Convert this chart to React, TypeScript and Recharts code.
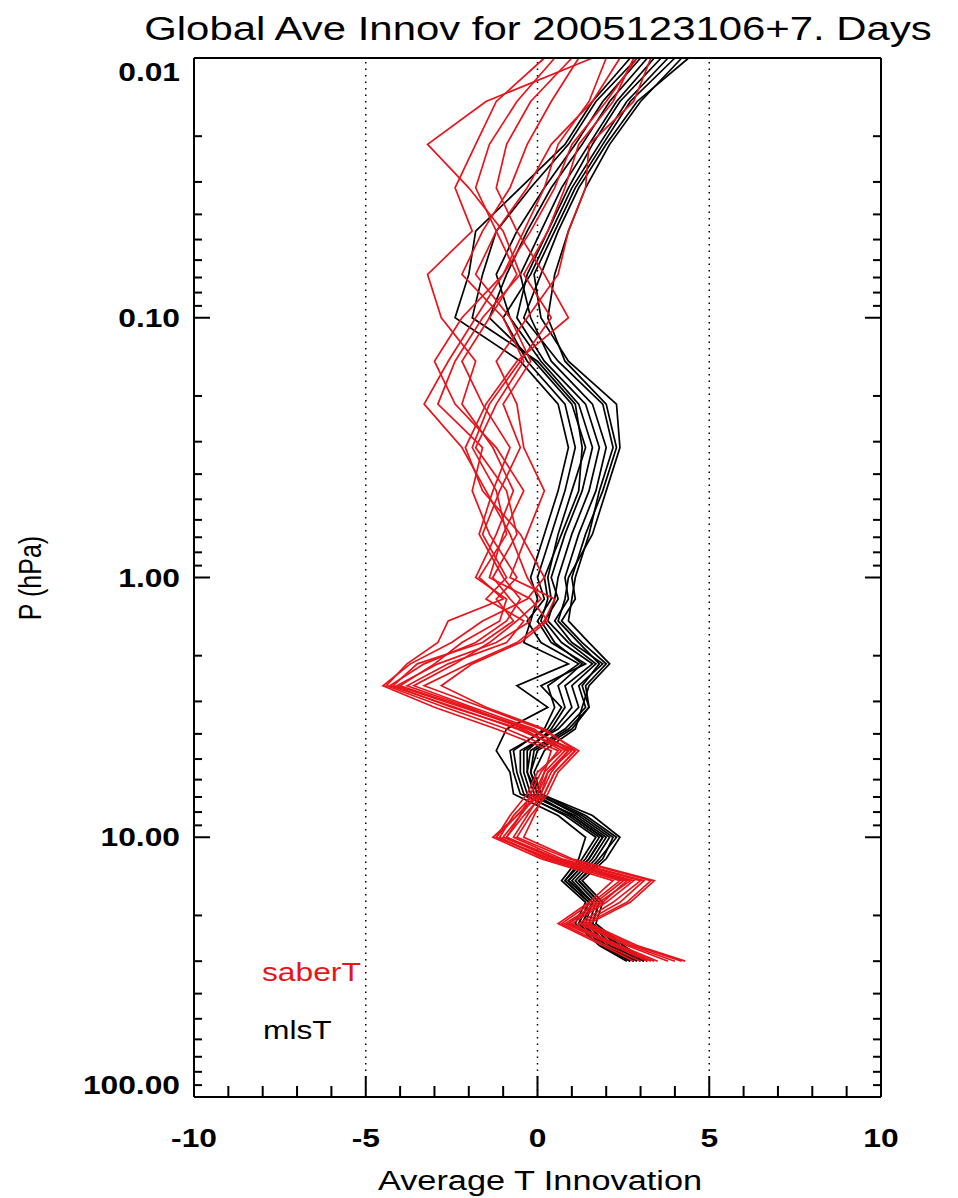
import { ComposedChart, Line, XAxis, YAxis, ReferenceLine } from 'recharts';

// pressure levels (hPa), top of the profile first
const pressureLevels = [
  0.01, 0.0147, 0.0215, 0.0316, 0.0464, 0.0681, 0.1, 0.147, 0.215, 0.316, 0.464, 0.681, 1.0,
  1.21, 1.47, 1.78, 2.15, 2.61, 3.16, 3.83, 4.64, 5.62, 6.81, 8.25, 10, 12.1, 14.7, 17.8, 21.5,
  26.1, 30,
];

// saberT innovations, one row per level, one column per run
const saberT = [
  [0.5, 1.2, 2.0, 2.8, 3.3, 1.6, 0.2, 2.4, 1.0, 2.9],
  [-0.6, 0.4, 1.5, 2.2, 2.8, -1.5, -1.2, 1.6, -0.2, 2.0],
  [-1.4, -0.3, 0.6, 1.2, 1.5, -3.2, -1.8, 0.4, -0.9, 1.0],
  [-1.8, -0.8, 0.2, 0.8, 1.4, -2.0, -2.4, -0.3, -1.2, 0.5],
  [-1.2, -1.6, -0.4, 0.3, 0.9, -1.0, -1.9, -1.2, -0.6, -0.2],
  [-0.6, -2.2, -1.0, -0.4, 0.6, -0.5, -3.2, -1.8, 0.2, -1.0],
  [-1.4, -1.0, -1.8, 0.4, -0.3, -1.6, -2.8, -0.8, 0.9, -2.2],
  [-2.2, -0.4, -2.6, -0.5, -1.2, -2.4, -1.8, -0.2, -0.6, -3.0],
  [-1.6, -1.2, -3.3, -1.4, -0.6, -2.9, -2.2, -1.0, -1.5, -2.4],
  [-0.8, -1.8, -2.2, -1.9, -0.4, -1.6, -1.3, -0.5, -2.1, -1.2],
  [-1.3, -0.9, -1.5, -1.2, 0.2, -1.9, -0.7, -1.1, -1.6, -0.4],
  [-1.7, -0.6, -0.8, -0.9, -0.3, -1.4, -1.2, -1.6, -0.5, -1.0],
  [-1.0, -1.3, -0.3, -1.7, -0.8, -0.6, -1.8, -0.9, 0.2, -1.4],
  [-0.5, -0.8, 0.1, -1.0, 0.5, -1.2, -0.9, -1.5, -0.3, -0.2],
  [-0.9, -0.2, -0.6, -2.6, 0.2, -0.7, -1.1, -0.4, -1.6, 0.3],
  [-1.8, -1.2, -1.4, -2.9, -0.6, -1.6, -2.2, -0.9, -2.5, -0.5],
  [-3.3, -2.9, -2.4, -3.8, -2.0, -3.5, -3.0, -2.6, -3.7, -1.9],
  [-4.3, -4.1, -3.6, -4.4, -3.3, -4.2, -4.0, -3.8, -4.5, -2.8],
  [-2.4, -2.2, -1.9, -2.7, -1.6, -2.5, -2.1, -2.0, -3.0, -1.5],
  [-0.6, -0.3, -0.1, -0.9, 0.1, -0.5, -0.2, -0.4, -1.2, 0.2],
  [0.9, 1.1, 0.8, 0.6, 1.2, 0.9, 1.0, 0.7, 0.4, 1.1],
  [0.3, 0.5, 0.2, 0.1, 0.6, 0.4, 0.3, 0.0, 0.2, 0.5],
  [0.0, 0.2, -0.1, -0.2, 0.3, 0.1, 0.1, -0.3, 0.0, 0.2],
  [-0.6, -0.4, -0.7, -0.5, -0.2, -0.6, -0.3, -0.8, -0.5, -0.1],
  [-1.2, -0.9, -1.1, -1.0, -0.6, -1.3, -0.7, -1.2, -0.9, -0.4],
  [0.3, 0.6, 0.2, 0.5, 0.9, 0.1, 0.7, 0.4, 0.5, 1.0],
  [2.6, 3.0, 2.4, 2.8, 3.3, 2.2, 3.1, 2.7, 2.5, 3.4],
  [1.9, 2.2, 1.6, 2.0, 2.6, 1.5, 2.4, 1.8, 1.7, 2.7],
  [0.9, 1.2, 0.7, 1.0, 1.4, 0.6, 1.3, 0.8, 0.9, 1.5],
  [2.3, 2.6, 2.0, 2.4, 2.8, 1.9, 2.7, 2.2, 2.3, 2.9],
  [3.4, 3.8, 3.0, 3.5, 4.2, 2.8, 4.0, 3.2, 3.3, 4.3],
];

// mlsT innovations, same layout
const mlsT = [
  [3.0, 3.4, 3.8, 4.2, 2.7, 3.6, 4.4, 3.2, 2.9, 4.0],
  [1.9, 2.3, 2.6, 3.0, 1.6, 2.4, 2.9, 2.1, 1.7, 2.7],
  [1.1, 1.5, 1.8, 2.1, 0.8, 1.6, 2.0, 1.3, 0.9, 1.9],
  [0.2, 0.7, 1.0, 1.4, -0.5, 0.9, 1.2, 0.4, -0.2, 1.1],
  [-0.6, 0.1, 0.4, 0.9, -1.8, 0.3, 0.6, -0.3, -1.2, 0.5],
  [-1.2, -0.5, -0.2, 0.5, -2.0, -0.3, 0.1, -0.9, -1.6, -0.1],
  [-0.8, -0.2, -1.0, 0.3, -2.4, -0.6, -0.4, -1.4, -1.9, 0.1],
  [0.1, 0.4, -0.3, 0.8, -0.5, 0.2, 0.6, -0.1, 0.0, 0.9],
  [1.2, 1.6, 0.8, 2.0, 0.6, 1.4, 1.9, 1.0, 1.1, 2.3],
  [1.6, 2.0, 1.1, 2.3, 0.9, 1.8, 2.2, 1.4, 1.3, 2.4],
  [1.3, 1.7, 0.8, 1.9, 0.6, 1.5, 1.8, 1.0, 1.2, 2.0],
  [0.8, 1.2, 0.4, 1.4, 0.2, 1.0, 1.5, 0.6, 0.7, 1.6],
  [0.4, 0.8, 0.0, 1.0, -0.2, 0.6, 1.1, 0.3, 0.2, 0.9],
  [0.6, 0.9, 0.2, 1.1, 0.0, 0.5, 1.0, 0.4, 0.3, 0.8],
  [0.2, 0.5, -0.3, 0.7, -0.2, 0.3, 0.9, 0.0, 0.1, 0.6],
  [0.7, 1.0, 0.1, 1.3, -0.4, 0.9, 1.5, 0.4, 0.5, 1.2],
  [1.6, 1.9, 1.2, 2.0, 0.9, 1.7, 2.1, 1.4, 1.3, 1.8],
  [0.8, 1.2, 0.3, 1.4, -0.6, 1.0, 1.5, 0.1, 0.6, 1.3],
  [1.0, 1.4, 0.5, 1.5, 0.3, 1.2, 1.3, 0.7, 0.8, 1.5],
  [0.5, 0.8, 0.2, 1.0, -0.9, 0.6, 1.1, 0.3, 0.4, 0.9],
  [-0.4, -0.2, -0.7, 0.0, -1.2, -0.5, 0.2, -0.8, -0.3, -0.1],
  [-0.4, -0.3, -0.6, -0.2, -0.8, -0.5, -0.1, -0.7, -0.3, -0.2],
  [-0.2, 0.0, -0.4, 0.1, -0.7, -0.3, 0.1, -0.5, -0.1, 0.0],
  [1.0, 1.2, 0.8, 1.4, 0.6, 1.1, 1.6, 0.9, 1.0, 1.3],
  [1.9, 2.1, 1.7, 2.3, 1.4, 2.0, 2.4, 1.8, 1.9, 2.2],
  [1.5, 1.7, 1.3, 1.8, 1.2, 1.6, 2.0, 1.4, 1.5, 1.9],
  [0.9, 1.1, 0.8, 1.2, 0.7, 1.0, 1.3, 0.8, 0.9, 1.2],
  [1.6, 1.7, 1.5, 1.8, 1.4, 1.6, 1.9, 1.5, 1.6, 1.8],
  [1.3, 1.5, 1.2, 1.6, 1.1, 1.4, 1.7, 1.2, 1.3, 1.6],
  [2.0, 2.2, 1.9, 2.3, 1.8, 2.1, 2.5, 1.9, 2.0, 2.4],
  [2.8, 3.0, 2.7, 3.1, 2.6, 2.9, 3.2, 2.7, 2.8, 3.1],
];

const xTicks = [-10, -9, -8, -7, -6, -5, -4, -3, -2, -1, 0, 1, 2, 3, 4, 5, 6, 7, 8, 9, 10];
const xMajorTicks = [-10, -5, 0, 5, 10];
const xTickLabels = ['-10', '-5', '0', '5', '10'];
const yTicks = [
  0.01, 0.02, 0.03, 0.04, 0.05, 0.06, 0.07, 0.08, 0.09,
  0.1, 0.2, 0.3, 0.4, 0.5, 0.6, 0.7, 0.8, 0.9,
  1, 2, 3, 4, 5, 6, 7, 8, 9,
  10, 20, 30, 40, 50, 60, 70, 80, 90, 100,
];
const yMajorTicks = [0.01, 0.1, 1, 10, 100];
const yTickLabels = ['0.01', '0.10', '1.00', '10.00', '100.00'];
const dottedLines = [-5, 0, 5];

const RED = '#e8141b';
const FONT = '"Liberation Sans", Arial, Helvetica, sans-serif';
const STRETCH = 1.27;
const LINE_W = 1.7;

const runs = saberT[0].map((_, j) => j);

const data = pressureLevels.map((p, i) => {
  const row: Record<string, number> = { p };
  runs.forEach((j) => {
    row[`s${j}`] = saberT[i][j];
    row[`m${j}`] = mlsT[i][j];
  });
  return row;
});

const Label = ({ x, y, anchor = 'start', size = 25, bold = false, fill = '#000', rotate = 0, children }: any) => (
  <text
    transform={`translate(${x},${y}) rotate(${rotate}) scale(${rotate ? 1 : STRETCH},${rotate ? STRETCH : 1})`}
    textAnchor={anchor}
    fontSize={size}
    fontWeight={bold ? 'bold' : 'normal'}
    fontFamily={FONT}
    fill={fill}
  >
    {children}
  </text>
);

const LeftTick = ({ x, y, payload }: any) => {
  const idx = yMajorTicks.indexOf(payload.value);
  const dy = payload.value === 0.01 ? 23 : payload.value === 100 ? -3 : 9;
  return (
    <g>
      <line x1={x} x2={x + (idx >= 0 ? 16 : 8)} y1={y} y2={y} stroke="#000" strokeWidth={2} />
      {idx >= 0 && (
        <Label x={x - 14} y={y + dy} anchor="end" bold>
          {yTickLabels[idx]}
        </Label>
      )}
    </g>
  );
};

const RightTick = ({ x, y, payload }: any) => {
  const major = yMajorTicks.includes(payload.value);
  return <line x1={x} x2={x - (major ? 16 : 8)} y1={y} y2={y} stroke="#000" strokeWidth={2} />;
};

const BottomTick = ({ x, y, payload }: any) => {
  const idx = xMajorTicks.indexOf(payload.value);
  return (
    <g>
      <line x1={x} x2={x} y1={y} y2={y - (idx >= 0 ? 21 : 11)} stroke="#000" strokeWidth={2} />
      {idx >= 0 && (
        <Label x={x} y={y + 50} anchor="middle" bold>
          {xTickLabels[idx]}
        </Label>
      )}
    </g>
  );
};

const TopTick = ({ x, y, payload }: any) => {
  const major = xMajorTicks.includes(payload.value);
  return <line x1={x} x2={x} y1={y} y2={y + (major ? 21 : 11)} stroke="#000" strokeWidth={2} />;
};

const axisLine = { stroke: '#000', strokeWidth: 2 };

export default function App() {
  return (
    <div style={{ position: 'absolute', left: 0, top: 0, width: 958, height: 1198, background: '#fff' }}>
      <ComposedChart
        width={958}
        height={1198}
        data={data}
        layout="vertical"
        margin={{ top: 57, right: 76, bottom: 100, left: 193 }}
      >
        <XAxis
          type="number"
          domain={[-10, 10]}
          ticks={xTicks}
          interval={0}
          height={1}
          tickSize={0}
          tickMargin={0}
          tickLine={false}
          axisLine={axisLine}
          tick={<BottomTick />}
        />
        <XAxis
          xAxisId="top"
          orientation="top"
          type="number"
          domain={[-10, 10]}
          ticks={xTicks}
          interval={0}
          height={1}
          tickSize={0}
          tickMargin={0}
          tickLine={false}
          axisLine={axisLine}
          tick={<TopTick />}
        />
        <YAxis
          type="number"
          dataKey="p"
          scale="log"
          domain={[0.01, 100]}
          ticks={yTicks}
          interval={0}
          width={1}
          tickSize={0}
          tickMargin={0}
          tickLine={false}
          axisLine={axisLine}
          tick={<LeftTick />}
        />
        <YAxis
          yAxisId="right"
          orientation="right"
          type="number"
          dataKey="p"
          scale="log"
          domain={[0.01, 100]}
          ticks={yTicks}
          interval={0}
          width={1}
          tickSize={0}
          tickMargin={0}
          tickLine={false}
          axisLine={axisLine}
          tick={<RightTick />}
        />
        {dottedLines.map((v) => (
          <ReferenceLine key={v} x={v} stroke="#000" strokeWidth={1.5} strokeDasharray="1.5 5" />
        ))}
        {runs.map((j) => (
          <Line
            key={`m${j}`}
            dataKey={`m${j}`}
            stroke="#000"
            strokeWidth={LINE_W}
            dot={false}
            isAnimationActive={false}
          />
        ))}
        {runs.map((j) => (
          <Line
            key={`s${j}`}
            dataKey={`s${j}`}
            stroke={RED}
            strokeWidth={LINE_W}
            dot={false}
            isAnimationActive={false}
          />
        ))}
      </ComposedChart>
      <svg
        width={958}
        height={1198}
        style={{ position: 'absolute', left: 0, top: 0, pointerEvents: 'none' }}
      >
        <Label x={538} y={40} anchor="middle" size={33}>
          Global Ave Innov for 2005123106+7. Days
        </Label>
        <Label x={540} y={1190} anchor="middle" size={27}>
          Average T Innovation
        </Label>
        <Label x={41} y={578} anchor="middle" size={25} rotate={-90}>
          P (hPa)
        </Label>
        <Label x={262} y={981} size={25} fill={RED}>
          saberT
        </Label>
        <Label x={263} y={1039} size={25}>
          mlsT
        </Label>
      </svg>
    </div>
  );
}
